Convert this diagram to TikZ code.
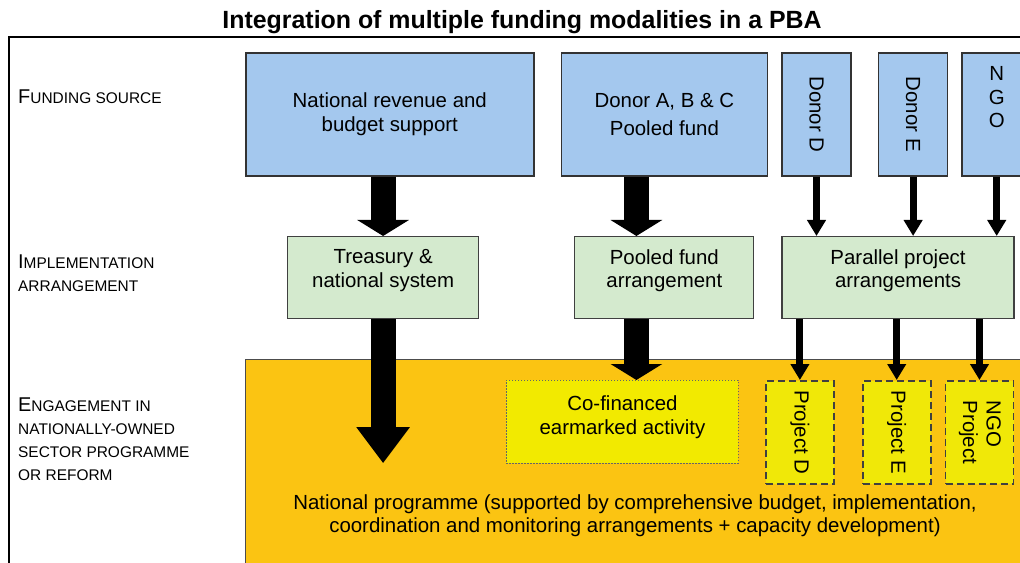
\documentclass[tikz,border=0pt]{standalone}
\usepackage{fontspec}
\setmainfont{Liberation Sans}
\usetikzlibrary{arrows.meta, positioning}

% first letter of a row heading, set larger than the rest
\newcommand{\capletter}[1]{{\fontsize{20}{23}\selectfont #1}}

\begin{document}
\begin{tikzpicture}[
    x=1bp, y=-1bp,           % one unit = one point, y runs downwards
    font=\fontsize{20.5}{23.5}\selectfont,
    srcbox/.style={
        draw=black!80,
        line width=1.6bp,
        fill=colorSource,
        align=center,
        inner sep=0pt,
        minimum height=123bp
    },
    armbox/.style={
        draw=black!75,
        line width=1.2bp,
        fill=colorArrange,
        align=center,
        inner sep=0pt,
        text depth=18bp,
        minimum height=82bp
    },
    projbox/.style={
        draw=black!75,
        line width=1.8bp,
        dash pattern=on 7bp off 4bp,
        fill=colorProject,
        inner sep=0pt,
        minimum width=68bp,
        minimum height=103bp
    },
    rowlabel/.style={
        anchor=west,
        align=left,
        inner sep=0pt,
        font=\fontsize{15.5}{23}\selectfont
    },
    fatarrow/.style={
        line width=25bp,
        -{Triangle[width=51bp, length=#1]}
    },
    fatarrow/.default=16bp,
    thinarrow/.style={
        line width=7bp,
        -{Triangle[width=18bp, length=16bp]}
    }
]

%--- Define colors for blocks ---
\definecolor{colorSource}{RGB}{164,200,238}     % Light Blue
\definecolor{colorArrange}{RGB}{212,234,206}    % Light Green
\definecolor{colorProgramme}{RGB}{251,196,18}   % Amber
\definecolor{colorCofin}{RGB}{242,234,0}        % Yellow
\definecolor{colorProject}{RGB}{240,232,8}      % Yellow

\useasboundingbox (0,0) rectangle (1020,563);

% Title and frame
\node[font=\bfseries\fontsize{25}{28}\selectfont] (title) at (522,22)
{Integration of multiple funding modalities in a PBA};
\draw[line width=1.4bp] (1020,37) -- (9,37) -- (9,563);

%------------------------------------
% ROW HEADINGS
%------------------------------------
\node[rowlabel] (lbl_source) at (18,97) {\capletter{F}UNDING SOURCE};
\node[rowlabel] (lbl_arrange) at (18,273) {\capletter{I}MPLEMENTATION\\ARRANGEMENT};
\node[rowlabel] (lbl_engage) at (18,439) {\capletter{E}NGAGEMENT IN\\NATIONALLY-OWNED\\SECTOR PROGRAMME\\OR REFORM};

%------------------------------------
% TOP ROW: FUNDING SOURCES
%------------------------------------
\node[srcbox, minimum width=288bp, anchor=north west] (natl_rev) at (245,52)
{National revenue and\\budget support};

\node[srcbox, minimum width=206bp, right=26bp of natl_rev,
      font=\fontsize{20.5}{28}\selectfont] (donor_abc)
{Donor A, B \& C\\Pooled fund};

\node[srcbox, minimum width=69bp, right=13bp of donor_abc] (donor_d)
{\rotatebox{-90}{Donor D}};

\node[srcbox, minimum width=69bp, right=26bp of donor_d] (donor_e)
{\rotatebox{-90}{Donor E}};

\node[srcbox, minimum width=69bp, right=13bp of donor_e] (ngo)
{N\\G\\O\\[4bp]\strut};

%------------------------------------
% MIDDLE ROW: IMPLEMENTATION ARRANGEMENTS
%------------------------------------
\node[armbox, minimum width=191bp, anchor=north west] (treasury) at (287,236)
{Treasury \&\\national system};

\node[armbox, minimum width=179bp, right=95bp of treasury] (pooled_arr)
{Pooled fund\\arrangement};

\node[armbox, minimum width=232bp, right=27bp of pooled_arr] (parallel)
{Parallel project\\arrangements};

%------------------------------------
% BOTTOM ROW: NATIONAL PROGRAMME
%------------------------------------
\node[draw=black!70, line width=1.2bp, fill=colorProgramme,
      minimum width=790bp, minimum height=220bp, anchor=north west]
(programme) at (245,359) {};

\node[align=center] (programme_text) at (635,516)
{National programme (supported by comprehensive budget, implementation,\\coordination and monitoring arrangements + capacity development)};

\node[draw=black!60, line width=0.9bp, dash pattern=on 1.5bp off 1.5bp,
      fill=colorCofin, align=center, inner sep=0pt, text depth=14bp,
      minimum width=232bp, minimum height=83bp, anchor=north west]
(cofin) at (506,380) {Co-financed\\earmarked activity};

\node[projbox, anchor=north west] (proj_d) at (765,380)
{\rotatebox{-90}{Project D}};

\node[projbox, right=27bp of proj_d] (proj_e)
{\rotatebox{-90}{Project E}};

\node[projbox, right=13bp of proj_e] (ngo_proj)
{\rotatebox{-90}{\begin{tabular}{@{}l@{}}NGO\\Project\end{tabular}}};

% free end of the treasury arrow
\coordinate[below=144bp of treasury.south] (natl_tip);

%------------------
% EDGES (ARROWS)
%------------------

% National budget flow
\draw[fatarrow] (natl_rev.south -| treasury.north) -- (treasury.north);
\draw[fatarrow=36bp] (treasury.south) -- (natl_tip);

% Pooled fund flow
\draw[fatarrow] ([xshift=-28bp]donor_abc.south)
    -- ([xshift=-28bp]donor_abc.south |- pooled_arr.north);
\draw[fatarrow] ([xshift=-28bp]donor_abc.south |- pooled_arr.south)
    -- ([xshift=-28bp]donor_abc.south |- cofin.north);

% Parallel projects
\draw[thinarrow] (donor_d.south) -- (donor_d.south |- parallel.north);
\draw[thinarrow] (donor_e.south) -- (donor_e.south |- parallel.north);
\draw[thinarrow] (ngo.south) -- (ngo.south |- parallel.north);

\draw[thinarrow] (proj_d.north |- parallel.south) -- (proj_d.north);
\draw[thinarrow] (proj_e.north |- parallel.south) -- (proj_e.north);
\draw[thinarrow] (ngo_proj.north |- parallel.south) -- (ngo_proj.north);

\end{tikzpicture}
\end{document}
